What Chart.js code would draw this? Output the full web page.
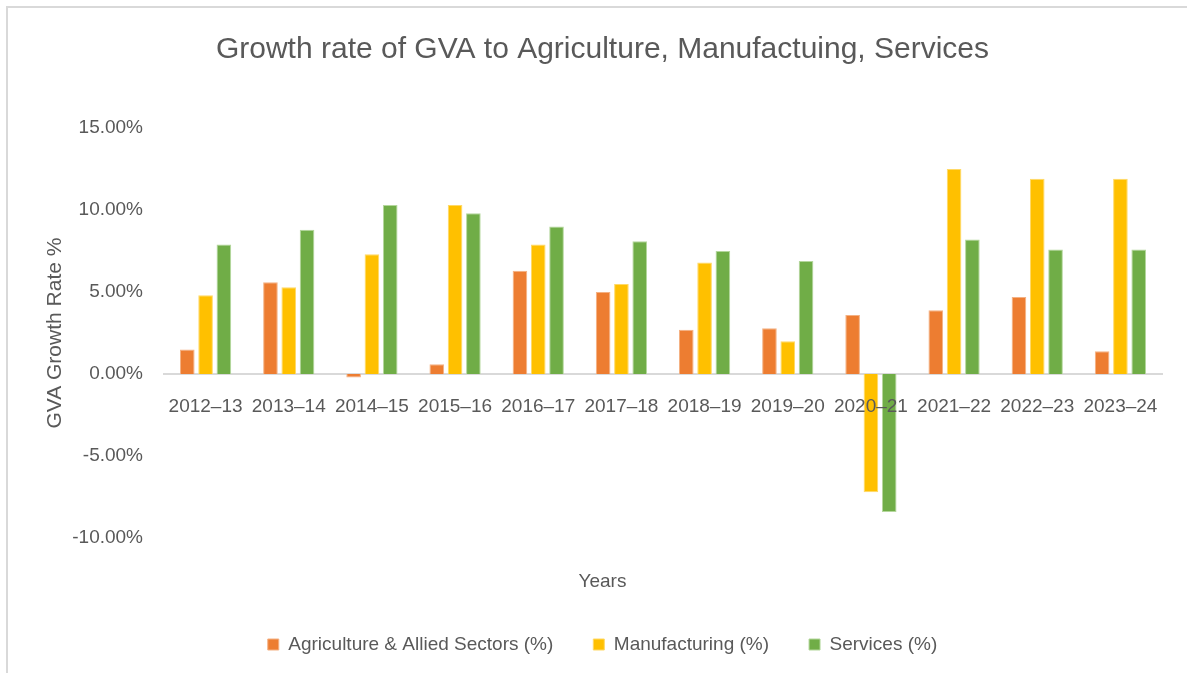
<!DOCTYPE html>
<html>
<head>
<meta charset="utf-8">
<title>Growth rate of GVA</title>
<script src="https://cdn.jsdelivr.net/npm/chart.js@4/dist/chart.umd.min.js"></script>
<style>
  html, body { margin: 0; padding: 0; background: #fff; }
  #wrap { position: relative; width: 1187px; height: 673px; }
  #frame {
    position: absolute; left: 6px; top: 6px; right: 0; bottom: 0;
    border-left: 2px solid #d9d9d9; border-top: 2px solid #d9d9d9;
    pointer-events: none;
  }
</style>
</head>
<body>
<div id="wrap">
  <canvas id="chart" width="1187" height="673"></canvas>
  <div id="frame"></div>
</div>
<script>
// Year-on-year growth of gross value added, in percent
const years = ['2012–13', '2013–14', '2014–15', '2015–16', '2016–17', '2017–18',
               '2018–19', '2019–20', '2020–21', '2021–22', '2022–23', '2023–24'];
const agriculture   = [1.5, 5.6, -0.2, 0.6, 6.3, 5.0, 2.7, 2.8, 3.6, 3.9, 4.7, 1.4];
const manufacturing = [4.8, 5.3, 7.3, 10.3, 7.9, 5.5, 6.8, 2.0, -7.2, 12.5, 11.9, 11.9];
const services      = [7.9, 8.8, 10.3, 9.8, 9.0, 8.1, 7.5, 6.9, -8.4, 8.2, 7.6, 7.6];

const FONT = 'Liberation Sans, Arial, sans-serif';
const TEXT = '#595959';

function series(label, data, fill, edge) {
  return {
    label, data,
    backgroundColor: fill,
    borderColor: edge,
    borderWidth: 1,
    categoryPercentage: 0.66,
    barPercentage: 0.8,
  };
}

new Chart(document.getElementById('chart'), {
  type: 'bar',
  data: {
    labels: years,
    datasets: [
      series('Agriculture & Allied Sectors (%)', agriculture, '#ED7D31', '#f4b183'),
      series('Manufacturing (%)', manufacturing, '#FFC000', '#ffd966'),
      series('Services (%)', services, '#70AD47', '#b4d79c'),
    ],
  },
  options: {
    responsive: false,
    animation: false,
    layout: { padding: { left: 43, right: 25, top: 32, bottom: 9 } },
    plugins: {
      title: {
        display: true,
        text: 'Growth rate of GVA to Agriculture, Manufactuing, Services',
        color: TEXT,
        font: { family: FONT, size: 30, weight: 'normal' },
        padding: { top: 0, bottom: 60 },
      },
      subtitle: {
        display: true,
        position: 'bottom',
        text: 'Years',
        color: TEXT,
        font: { family: FONT, size: 19, weight: 'normal' },
        padding: { top: 32, bottom: 2 },
      },
      legend: {
        position: 'bottom',
        weight: 2000,
        labels: {
          color: TEXT,
          font: { family: FONT, size: 19 },
          boxWidth: 11,
          boxHeight: 11,
          padding: 40,
        },
      },
      tooltip: { enabled: false },
    },
    scales: {
      x: {
        position: { y: 0 },
        grid: { display: false, drawTicks: false },
        border: { display: true, color: '#d9d9d9', width: 2 },
        ticks: {
          z: 1,  // year labels sit on top of the negative bars
          color: TEXT,
          font: { family: FONT, size: 19 },
          padding: 21,
          maxRotation: 0,
          autoSkip: false,
        },
      },
      y: {
        min: -10,
        max: 15,
        afterFit(scale) { scale.width = 121; },
        grid: { display: false, drawTicks: false },
        border: { display: false },
        ticks: {
          stepSize: 5,
          color: TEXT,
          font: { family: FONT, size: 19 },
          padding: 21,
          callback: v => v.toFixed(2) + '%',
        },
        title: {
          display: true,
          text: 'GVA Growth Rate %',
          color: TEXT,
          font: { family: FONT, size: 21 },
          padding: 0,
        },
      },
    },
  },
});
</script>
</body>
</html>
